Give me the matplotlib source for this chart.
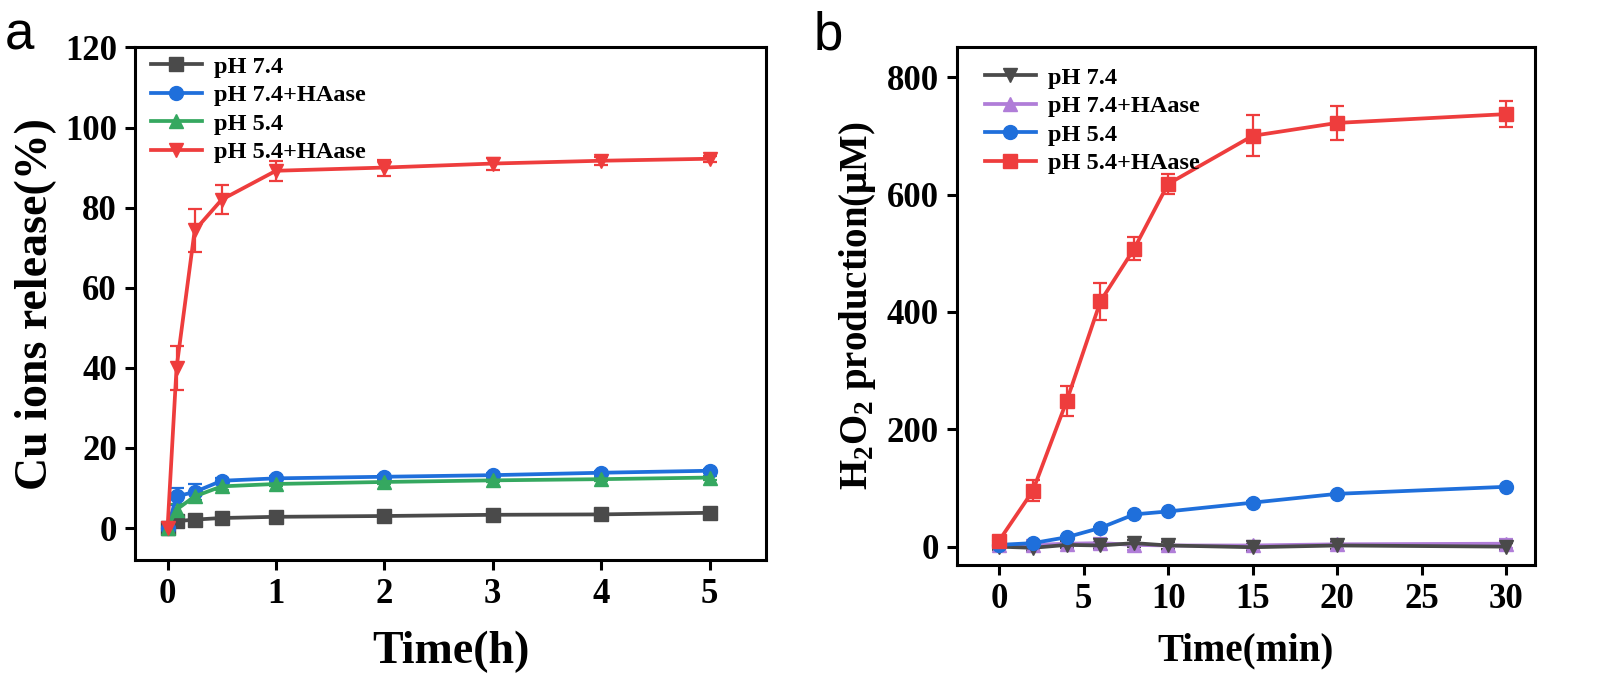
import matplotlib
matplotlib.use("Agg")
import matplotlib.pyplot as plt
import numpy as np

plt.rcParams['font.family'] = 'Liberation Serif'
plt.rcParams['font.weight'] = 'bold'

# panel a: Cu ions release
t_h = [0, 0.083, 0.25, 0.5, 1, 2, 3, 4, 5]
cu_74 = [0, 1.7, 2.1, 2.5, 2.8, 3.0, 3.3, 3.4, 3.8]
cu_74_err = [0.5, 0.4, 0.4, 0.4, 0.3, 0.3, 0.3, 0.3, 0.3]
cu_74h = [0, 7.9, 9.0, 11.8, 12.4, 12.8, 13.2, 13.8, 14.3]
cu_74h_err = [0.5, 2.2, 2.0, 0.8, 0.6, 0.5, 0.5, 0.5, 0.5]
cu_54 = [0, 4.6, 7.9, 10.4, 11.0, 11.5, 11.9, 12.2, 12.6]
cu_54_err = [0.5, 1.5, 1.2, 0.8, 0.6, 0.5, 0.5, 0.5, 0.5]
cu_54h = [0, 40, 74.3, 82, 89.2, 90.0, 91.0, 91.7, 92.2]
cu_54h_err = [0.5, 5.5, 5.4, 3.7, 2.5, 2.0, 1.5, 1.0, 0.8]

# panel b: H2O2 production
t_min = [0, 2, 4, 6, 8, 10, 15, 20, 30]
h_74 = [0, -2, 3, 2, 6, 2, -1, 2, 0]
h_74_err = [6, 6, 6, 6, 6, 6, 6, 6, 6]
h_74h = [2, 3, 5, 6, 3, 2, 2, 4, 5]
h_74h_err = [8, 8, 8, 9, 8, 8, 8, 8, 8]
h_54 = [3, 6, 16, 32, 55, 60, 75, 90, 102]
h_54_err = [2, 2, 2, 2, 2, 2, 2, 2, 2]
h_54h = [10, 95, 248, 418, 508, 618, 700, 722, 737]
h_54h_err = [5, 18, 25, 32, 20, 17, 35, 29, 22]

gray = '#4a4a4a'
blue = '#1f6fdb'
green = '#35a860'
red = '#ee3d3d'
purple = '#b07dd8'

fig = plt.figure(figsize=(15.98, 6.83), dpi=100)
ax1 = fig.add_axes([0.0845, 0.180, 0.3948, 0.7506])
ax2 = fig.add_axes([0.5987, 0.173, 0.3619, 0.7579])


def draw(ax, x, y, err, color, marker, label):
    c = ax.errorbar(x, y, yerr=err, color=color, marker=marker, markersize=10,
                    linewidth=2.7, elinewidth=1.6, capsize=5, capthick=1.6)
    c[0].set_label(label)
    return c[0]


l1 = [draw(ax1, t_h, cu_74, cu_74_err, gray, 's', 'pH 7.4'),
      draw(ax1, t_h, cu_74h, cu_74h_err, blue, 'o', 'pH 7.4+HAase'),
      draw(ax1, t_h, cu_54, cu_54_err, green, '^', 'pH 5.4'),
      draw(ax1, t_h, cu_54h, cu_54h_err, red, 'v', 'pH 5.4+HAase')]

p = draw(ax2, t_min, h_74h, h_74h_err, purple, '^', 'pH 7.4+HAase')
g = draw(ax2, t_min, h_74, h_74_err, gray, 'v', 'pH 7.4')
b = draw(ax2, t_min, h_54, h_54_err, blue, 'o', 'pH 5.4')
r = draw(ax2, t_min, h_54h, h_54h_err, red, 's', 'pH 5.4+HAase')
l2 = [g, p, b, r]

ax1.set_xlim(-0.3, 5.52)
ax1.set_ylim(-8, 120)
ax1.set_xticks([0, 1, 2, 3, 4, 5])
ax1.set_yticks(np.arange(0, 121, 20))
ax1.set_xlabel('Time(h)', fontsize=33, fontweight='bold', labelpad=14)
ax1.set_ylabel('Cu ions release(%)', fontsize=33, fontweight='bold', labelpad=6)

ax2.set_xlim(-2.5, 31.7)
ax2.set_ylim(-31, 851)
ax2.set_xticks(np.arange(0, 31, 5))
ax2.set_yticks(np.arange(0, 801, 200))
ax2.set_xlabel('Time(min)', fontsize=28, fontweight='bold', labelpad=12)
ax2.set_ylabel(r'H$_\mathregular{2}$O$_\mathregular{2}$ production($\mathregular{\mu}$M)',
               fontsize=28, fontweight='bold', labelpad=6)

for ax in (ax1, ax2):
    for s in ax.spines.values():
        s.set_linewidth(2.2)
    ax.tick_params(axis='both', direction='out', length=7, width=2.2,
                   labelsize=25, pad=6)
    for lab in ax.get_xticklabels() + ax.get_yticklabels():
        lab.set_fontweight('bold')

ax1.legend(handles=l1, loc='upper left', bbox_to_anchor=(0.0, 1.015), frameon=False,
           prop={'size': 17.5, 'weight': 'bold'}, labelspacing=0.27,
           handlelength=2.1, handletextpad=0.5, borderaxespad=0.25)

ax2.legend(handles=l2, loc='upper left', bbox_to_anchor=(0.015, 1.0), frameon=False,
           prop={'size': 17.5, 'weight': 'bold'}, labelspacing=0.27,
           handlelength=2.1, handletextpad=0.5, borderaxespad=0.4)

fig.text(0.003, 0.985, 'a', fontsize=38, family='Liberation Sans',
         fontweight='normal', va='top')
fig.text(0.509, 0.985, 'b', fontsize=38, family='Liberation Sans',
         fontweight='normal', va='top')

fig.savefig('out.png', dpi=100)
